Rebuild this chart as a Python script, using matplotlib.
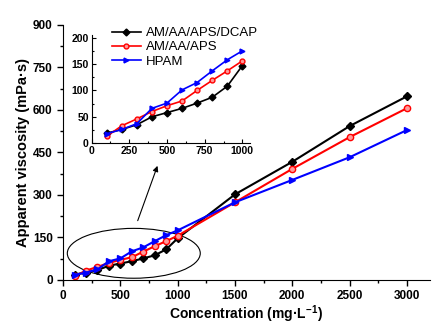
import matplotlib
matplotlib.use('Agg')
from matplotlib import pyplot as plt
from matplotlib.patches import Ellipse

plt.rcParams['font.family'] = ['Liberation Sans', 'DejaVu Sans']
plt.rcParams['mathtext.fontset'] = 'custom'
plt.rcParams['mathtext.rm'] = 'Liberation Sans:bold'
plt.rcParams['mathtext.bf'] = 'Liberation Sans:bold'

conc = [100, 200, 300, 400, 500, 600, 700, 800, 900, 1000, 1500, 2000, 2500, 3000]
dcap = [19, 26, 35, 50, 58, 66, 76, 87, 108, 147, 302, 417, 543, 648]
aps = [13, 33, 46, 60, 71, 80, 100, 119, 137, 156, 274, 392, 504, 606]
hpam = [18, 26, 37, 66, 76, 101, 115, 137, 158, 175, 274, 353, 433, 529]

labels = ['AM/AA/APS/DCAP', 'AM/AA/APS', 'HPAM']
colors = ['black', 'red', 'blue']
markers = ['D', 'o', '>']
series = [dcap, aps, hpam]

fig = plt.figure(figsize=(4.32, 3.24), dpi=100)
ax = fig.add_axes([0.146, 0.136, 0.849, 0.787])

for y, c, m, lab in zip(series, colors, markers, labels):
    mfc = '#ff9a9a' if c == 'red' else c
    ax.plot(conc, y, color=c, marker=m, markersize=4.5, lw=1.5,
            markerfacecolor=mfc, markeredgecolor=c, label=lab)

ax.set_xlim(0, 3200)
ax.set_ylim(0, 900)
ax.set_xticks(range(0, 3001, 500))
ax.set_xticks(range(0, 3201, 250), minor=True)
ax.set_yticks(range(0, 901, 150))
ax.set_yticks(range(0, 901, 75), minor=True)
ax.spines['top'].set_visible(False)
ax.spines['right'].set_visible(False)
ax.tick_params(direction='out', length=4, width=1, labelsize=8.5)
ax.tick_params(which='minor', direction='out', length=2.5, width=1)
for t in ax.get_xticklabels() + ax.get_yticklabels():
    t.set_fontweight('bold')
ax.set_xlabel(r'Concentration (mg·L$^{-1}$)', fontsize=10, fontweight='bold', labelpad=1)
ax.set_ylabel('Apparent viscosity (mPa·s)', fontsize=10.5, fontweight='bold', labelpad=2)

# ellipse around the low-concentration region and arrow to inset
ax.add_patch(Ellipse((617, 94), 1160, 176, fill=False, edgecolor='black', lw=0.8))
ax.annotate('', xy=(832, 412), xytext=(643, 200),
            arrowprops=dict(arrowstyle='-|>', color='black', lw=0.8, mutation_scale=8))

# inset
ins = fig.add_axes([0.212, 0.558, 0.3665, 0.334])
for y, c, m, lab in zip(series, colors, markers, labels):
    mfc = '#ff9a9a' if c == 'red' else c
    ins.plot(conc[:10], y[:10], color=c, marker=m, markersize=3.5, lw=1.2,
             markerfacecolor=mfc, markeredgecolor=c, label=lab)
ins.set_xlim(0, 1050)
ins.set_ylim(0, 205)
ins.set_xticks(range(0, 1001, 250))
ins.set_xticks(range(0, 1001, 125), minor=True)
ins.set_yticks(range(0, 201, 50))
ins.set_yticks(range(0, 201, 25), minor=True)
ins.spines['top'].set_visible(False)
ins.spines['right'].set_visible(False)
ins.tick_params(direction='in', length=3, width=0.8, labelsize=7.5, pad=2)
ins.tick_params(which='minor', direction='in', length=1.5, width=0.8)
for t in ins.get_xticklabels() + ins.get_yticklabels():
    t.set_fontweight('bold')
ins.legend(loc='upper left', bbox_to_anchor=(0.07, 1.16), frameon=False,
           fontsize=9.5, handlelength=2.2, labelspacing=0.15, borderpad=0.2,
           handletextpad=0.35)

fig.savefig('out.png', dpi=100)
